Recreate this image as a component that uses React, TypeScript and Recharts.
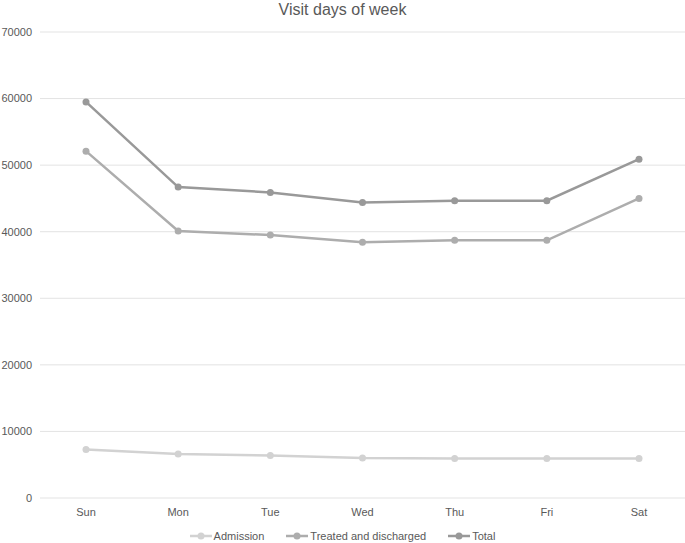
import React from 'react';
import { LineChart, Line, XAxis, YAxis, CartesianGrid, Legend } from 'recharts';

const days = ['Sun', 'Mon', 'Tue', 'Wed', 'Thu', 'Fri', 'Sat'];
const admission = [7300, 6600, 6400, 6000, 5950, 5950, 5950];
const treated = [52100, 40100, 39500, 38400, 38700, 38700, 45000];
const total = [59500, 46700, 45900, 44400, 44650, 44650, 50900];
const yTicks = [0, 10000, 20000, 30000, 40000, 50000, 60000, 70000];

const series = [
  { key: 'admission', name: 'Admission', color: '#d2d2d2' },
  { key: 'treated', name: 'Treated and discharged', color: '#adadad' },
  { key: 'total', name: 'Total', color: '#999999' },
];

const data = days.map((day, i) => ({
  day,
  admission: admission[i],
  treated: treated[i],
  total: total[i],
}));

const font = '"Liberation Sans", Arial, sans-serif';

const LegendContent = () => (
  <div style={{ display: 'flex', justifyContent: 'center', gap: 22, marginTop: 2, fontSize: 11, color: '#595959', fontFamily: font }}>
    {series.map(s => (
      <div key={s.key} style={{ display: 'flex', alignItems: 'center' }}>
        <svg width={22} height={10} style={{ marginRight: 2 }}>
          <line x1={0} y1={5} x2={22} y2={5} stroke={s.color} strokeWidth={2.5} />
          <circle cx={11} cy={5} r={3.5} fill={s.color} />
        </svg>
        <span>{s.name}</span>
      </div>
    ))}
  </div>
);

const App: React.FC = () => {
  return (
    <div style={{ position: 'absolute', left: 0, top: 0, width: 685, height: 543, background: '#fff', fontFamily: font }}>
      <div style={{ position: 'absolute', top: 1, left: 0, width: 685, textAlign: 'center', fontSize: 16, color: '#595959', lineHeight: '18px' }}>
        Visit days of week
      </div>
      <LineChart width={685} height={543} data={data} margin={{ top: 32, right: 0, left: 0, bottom: 0 }}>
        <CartesianGrid vertical={false} stroke="#e3e3e3" />
        <XAxis
          dataKey="day"
          axisLine={false}
          tickLine={false}
          tickMargin={4}
          height={30}
          padding={{ left: 46, right: 46 }}
          tick={{ fontSize: 11, fill: '#595959', fontFamily: font }}
        />
        <YAxis
          domain={[0, 70000]}
          ticks={yTicks}
          width={40}
          axisLine={false}
          tickLine={false}
          tick={{ fontSize: 11, fill: '#595959', fontFamily: font }}
        />
        <Legend verticalAlign="bottom" height={15} content={<LegendContent />} />
        {series.map(s => (
          <Line
            key={s.key}
            type="linear"
            dataKey={s.key}
            name={s.name}
            stroke={s.color}
            strokeWidth={2.5}
            dot={{ r: 3.5, fill: s.color, stroke: s.color, strokeWidth: 0 }}
            isAnimationActive={false}
          />
        ))}
      </LineChart>
    </div>
  );
};

export default App;
